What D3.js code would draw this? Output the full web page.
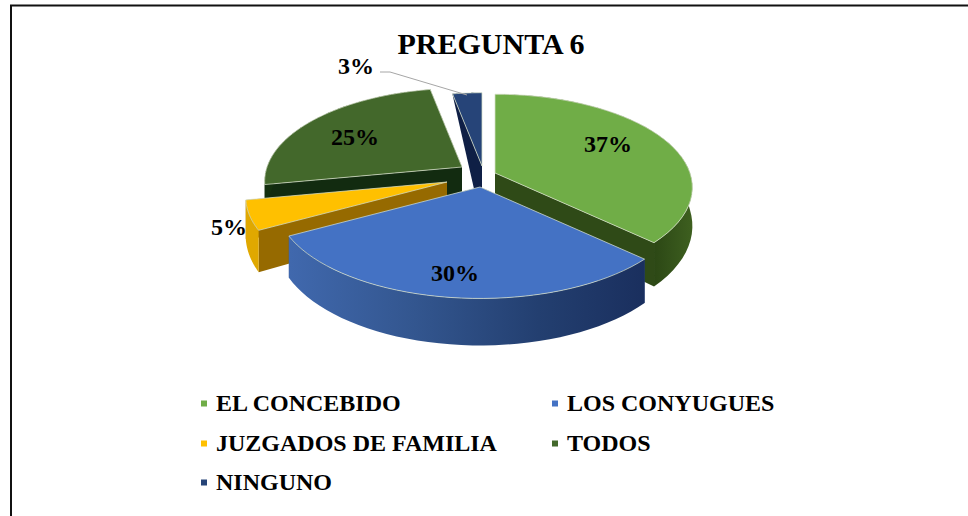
<!DOCTYPE html>
<html><head><meta charset="utf-8">
<script src="https://cdn.jsdelivr.net/npm/d3@7/dist/d3.min.js"></script>
<style>html,body{margin:0;padding:0;background:#fff}svg{display:block}text{font-family:"Liberation Serif",serif;font-weight:bold;fill:#000}</style>
</head><body><svg id="c" width="968" height="516"></svg>
<script>
const categories=["EL CONCEBIDO","LOS CONYUGUES","JUZGADOS DE FAMILIA","TODOS","NINGUNO"];
const values=[37,30,5,25,3];
const labels=["37%","30%","5%","25%","3%"];
const topColors=["#70ad47","#4472c4","#ffc000","#43682b","#264478"];
const legendColors=["#70ad47","#4472c4","#ffc000","#43682b","#264478"];
const wallColors=["#2f4a17","#2a4a85","#b98a00","#14300f","#0f1f45"];
const sideColors=["#2f4a17","#2c4a85","#966a00","#122b10","#0f1f45"];
const apexX=[495,480,447,462,482];
const apexY=[173,187,182,167,166];
const apexDepth=[37,37,37,37,58];
const radiusScale=[1,1.035,1.02,1,0.93];
const labelX=[608,455,229,355,356];
const labelY=[152,281,235,145,74];
const legendX=[203,554,203,554,203];
const legendY=[403,403,443,443,482];
const paintOrder=[3,4,0,2,1];

const svg=d3.select("#c");
const rx=195,ry=91,persp=0.155;
const pie=d3.pie().sort(null).value(d=>d)(values);
const proj=(a,r)=>{const X=Math.sin(a),Y=-Math.cos(a),k=r/(1-persp*Y);return {x:rx*X*k,y:ry*Y*k,Y};};
const depth=Y=>Y>=0?37+10*Y:37*(1+Y);
const line=d3.line().x(d=>d[0]).y(d=>d[1]);

const defs=svg.append("defs");
const g=defs.append("linearGradient").attr("id","blueWall").attr("gradientUnits","userSpaceOnUse").attr("x1",290).attr("x2",645).attr("y1",0).attr("y2",0);
[[0,"#4068ad"],[.35,"#33568f"],[.7,"#233f70"],[1,"#1a2f5e"]].forEach(s=>g.append("stop").attr("offset",s[0]).attr("stop-color",s[1]));
const g2=defs.append("linearGradient").attr("id","greenWall").attr("gradientUnits","userSpaceOnUse").attr("x1",650).attr("x2",695).attr("y1",0).attr("y2",0);
[[0,"#2a4514"],[1,"#3f6120"]].forEach(s=>g2.append("stop").attr("offset",s[0]).attr("stop-color",s[1]));
const wallFill=["url(#greenWall)","url(#blueWall)","#e0a800",wallColors[3],wallColors[4]];

const layer=svg.append("g");
paintOrder.forEach(i=>{
  const s=pie[i],ax=apexX[i],ay=apexY[i];
  const angs=d3.range(0,41).map(t=>s.startAngle+(s.endAngle-s.startAngle)*t/40);
  const rim=angs.map(a=>{const p=proj(a,radiusScale[i]);return [ax+p.x,ay+p.y,depth(p.Y)];});
  const top=[[ax,ay],...rim.map(d=>[d[0],d[1]])];
  const aBot=[ax,ay+apexDepth[i]];
  const wallA=[[ax,ay],[rim[0][0],rim[0][1]],[rim[0][0],rim[0][1]+rim[0][2]],aBot];
  const wallB=[[ax,ay],[rim[40][0],rim[40][1]],[rim[40][0],rim[40][1]+rim[40][2]],aBot];
  const g=layer.append("g");
  g.append("path").attr("d",line(wallB)+"Z").attr("fill",sideColors[i]);
  g.append("path").attr("d",line(wallA)+"Z").attr("fill",sideColors[i]);
  const outer=[...rim.map(d=>[d[0],d[1]]),...rim.slice().reverse().map(d=>[d[0],d[1]+d[2]])];
  g.append("path").attr("d",line(outer)+"Z").attr("fill",wallFill[i]);
  g.append("path").attr("d",line(top)+"Z").attr("fill",topColors[i]).attr("stroke","#d5dfc8").attr("stroke-opacity",.75).attr("stroke-width",1);
});

svg.append("path").attr("d",line([[380,72],[390,72],[467,95]])).attr("fill","none").attr("stroke","#a6a6a6").attr("stroke-width",1);

svg.append("path").attr("d",line([[11,516],[11,5.5],[968,5.5]])).attr("fill","none").attr("stroke","#111").attr("stroke-width",2);

svg.append("text").attr("x",491).attr("y",54).attr("text-anchor","middle").attr("font-size",30).text("PREGUNTA 6");
svg.selectAll(".dl").data(labels).join("text").attr("class","dl").attr("x",(d,i)=>labelX[i]).attr("y",(d,i)=>labelY[i]).attr("text-anchor","middle").attr("font-size",24).text(d=>d);
const lg=svg.selectAll(".lg").data(categories).join("g").attr("class","lg");
lg.append("rect").attr("x",(d,i)=>legendX[i]-2).attr("y",(d,i)=>legendY[i]-2.5).attr("width",6).attr("height",6).attr("fill",(d,i)=>legendColors[i]);
lg.append("text").attr("x",(d,i)=>legendX[i]+13).attr("y",(d,i)=>legendY[i]+8).attr("font-size",24).text(d=>d);
</script></body></html>
